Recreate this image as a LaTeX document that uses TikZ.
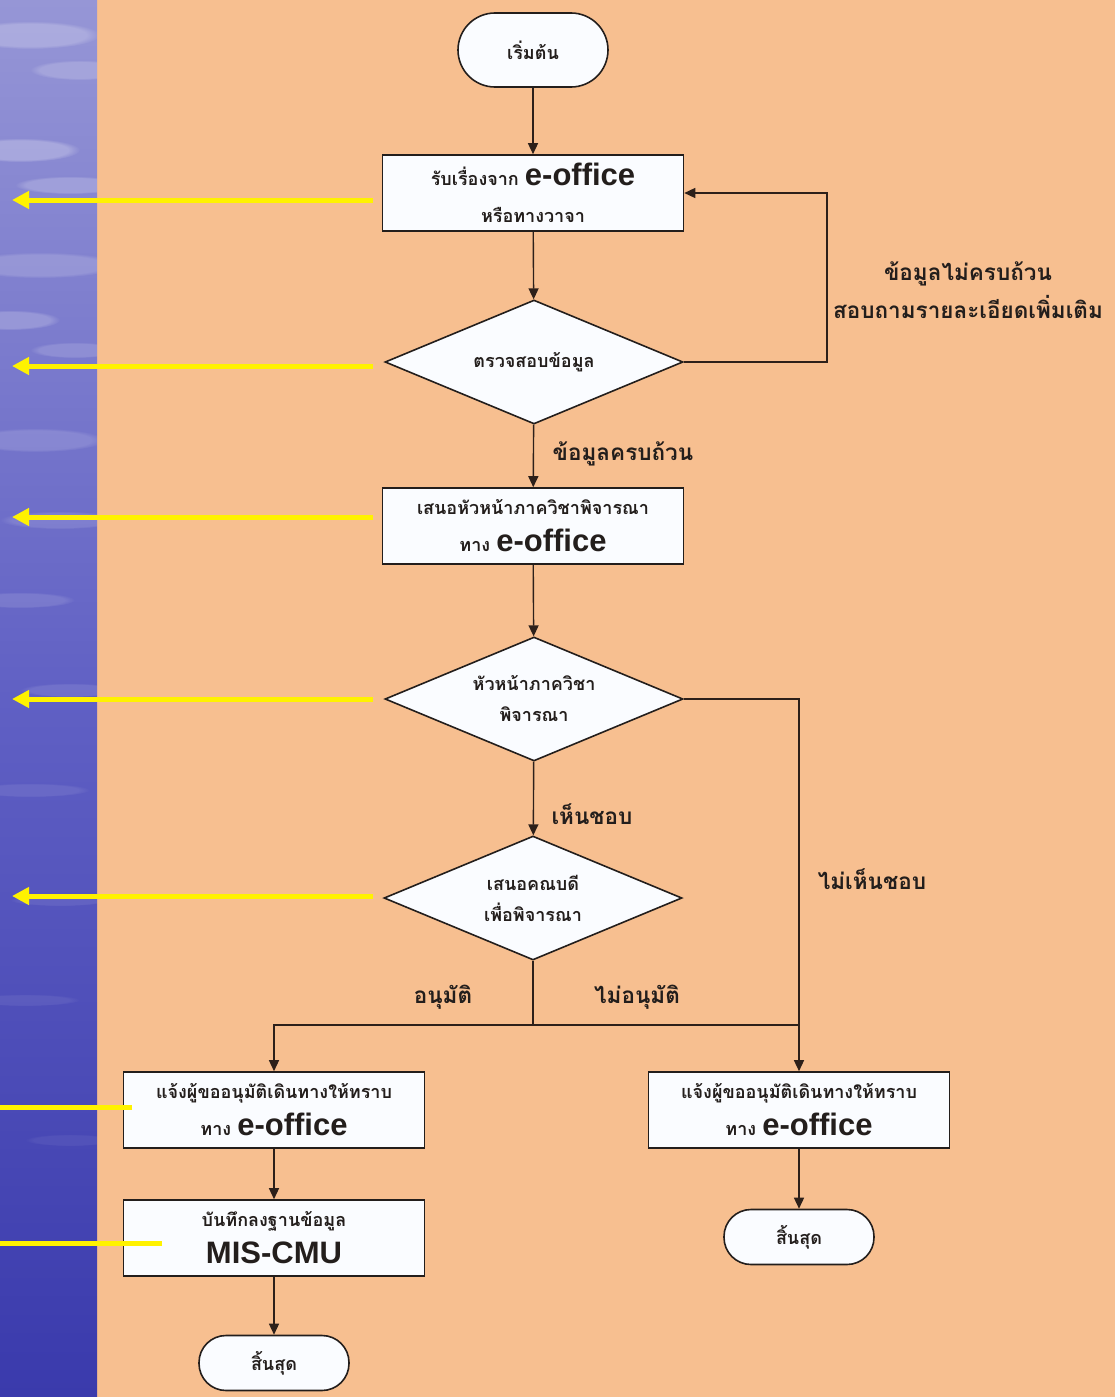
\documentclass[tikz,border=0pt]{standalone}
\usepackage{fontspec}
\setmainfont{Liberation Sans}
\newfontfamily\latin{Liberation Sans}
\newfontfamily\thai[Script=Thai]{Loma}
\usetikzlibrary{arrows.meta,shapes.geometric,fadings}

\definecolor{peach}{RGB}{247,191,144}
\definecolor{ink}{RGB}{35,30,28}
\definecolor{wire}{RGB}{45,32,26}
\definecolor{skytop}{RGB}{150,150,214}
\definecolor{skymid}{RGB}{96,96,196}
\definecolor{skybot}{RGB}{58,58,172}
\definecolor{marker}{RGB}{255,242,0}
\definecolor{boxfill}{RGB}{250,252,255}

\newcommand{\eo}{{\latin\bfseries\fontsize{31}{31}\selectfont e-office}}

\tikzset{
  procbox/.style={draw=ink, line width=1.6pt, fill=boxfill, rectangle,
    minimum width=301pt, minimum height=76pt, inner sep=0pt, align=center,
    text=ink, font=\thai\bfseries\fontsize{18}{37}\selectfont},
  decision/.style={draw=ink, line width=1.6pt, fill=boxfill, diamond, aspect=2.4,
    minimum width=298pt, minimum height=124pt, inner sep=0pt, align=center,
    text=ink, font=\thai\bfseries\fontsize{18}{31}\selectfont},
  terminal/.style={draw=ink, line width=1.6pt, fill=boxfill, rectangle,
    rounded corners=27pt, minimum width=150pt, minimum height=55pt,
    inner sep=0pt, text=ink, font=\thai\bfseries\fontsize{18}{18}\selectfont},
  flow/.style={draw=wire, line width=1.4pt},
  arr/.style={flow, -{Triangle[length=11pt,width=10pt]}},
  note/.style={text=ink, font=\thai\bfseries\fontsize{22.5}{38}\selectfont, align=center},
  pointer/.style={draw=marker, line width=5pt, -{Triangle[length=17pt,width=17pt]}},
  tick/.style={draw=marker, line width=5pt},
  cloud streak/.style={fill=white, path fading=circle with fuzzy edge 20 percent}
}

\begin{document}
\begin{tikzpicture}[x=1pt,y=-1pt]
  % page and background panels
  \useasboundingbox (0,0) rectangle (1115,1397);
  \fill[peach] (97,0) rectangle (1115,1397);
  \shade[top color=skytop, bottom color=skybot, middle color=skymid]
    (0,0) rectangle (97,1397);
  % soft, irregular cloud streaks on the blue panel
  \begin{scope}
    \clip (0,0) rectangle (97,1397);
    \foreach \xx/\yy/\rx/\ry/\op in {
        30/35/70/14/0.22, 80/70/50/10/0.18, 20/150/60/12/0.25, 70/185/55/9/0.2,
        40/265/80/13/0.16, 10/320/50/10/0.2, 75/350/45/8/0.15, 35/440/70/12/0.14,
        60/520/60/9/0.12, 20/600/55/8/0.12, 70/690/50/7/0.1, 30/790/60/7/0.09,
        60/900/50/6/0.08, 25/1000/55/6/0.07, 70/1140/45/6/0.06}
      \fill[cloud streak, opacity=\op] (\xx,\yy) ellipse (\rx pt and \ry pt);
  \end{scope}

  % flowchart nodes
  \node[terminal, rounded corners=37pt, minimum height=74pt] (start) at (533,50) {เริ่มต้น};
  \node[procbox] (recv) at (533,193) {รับเรื่องจาก \eo\\หรือทางวาจา};
  \node[decision] (check) at (534,362) {ตรวจสอบข้อมูล};
  \node[procbox] (head) at (533,526) {เสนอหัวหน้าภาควิชาพิจารณา\\ทาง \eo};
  \node[decision] (headok) at (534,699) {หัวหน้าภาควิชา\\พิจารณา};
  \node[decision] (dean) at (533,898) {เสนอคณบดี\\เพื่อพิจารณา};
  \node[procbox] (tellok) at (274,1110) {แจ้งผู้ขออนุมัติเดินทางให้ทราบ\\ทาง \eo};
  \node[procbox] (mis) at (274,1238) {บันทึกลงฐานข้อมูล\\{\latin\bfseries\fontsize{31}{31}\selectfont MIS-CMU}};
  \node[terminal] (end1) at (274,1363) {สิ้นสุด};
  \node[procbox] (tellno) at (799,1110) {แจ้งผู้ขออนุมัติเดินทางให้ทราบ\\ทาง \eo};
  \node[terminal] (end2) at (799,1237) {สิ้นสุด};

  % helper points
  \coordinate (loop) at (827,193);
  \coordinate (split) at (533,1025);

  % connectors
  \draw[arr] (start) -- (recv);
  \draw[arr] (recv) -- (check);
  \draw[arr] (check.east) -- (check.east -| loop) -- (loop) -- (recv.east);
  \draw[arr] (check) -- (head);
  \draw[arr] (head) -- (headok);
  \draw[arr] (headok) -- (dean);
  \draw[arr] (headok.east) -| (tellno.north);
  \draw[flow] (dean.south) -- (split);
  \draw[arr] (split) -| (tellok.north);
  \draw[flow] (split) -- (split -| tellno.north);
  \draw[arr] (tellok) -- (mis);
  \draw[arr] (mis) -- (end1);
  \draw[arr] (tellno) -- (end2);

  % branch labels
  \node[note] (lbl-missing) at (968,290) {ข้อมูลไม่ครบถ้วน\\สอบถามรายละเอียดเพิ่มเติม};
  \node[note] (lbl-complete) at (623,454) {ข้อมูลครบถ้วน};
  \node[note] (lbl-agree) at (592,814) {เห็นชอบ};
  \node[note] (lbl-disagree) at (872,879) {ไม่เห็นชอบ};
  \node[note] (lbl-approve) at (443,997) {อนุมัติ};
  \node[note] (lbl-reject) at (637,997) {ไม่อนุมัติ};

  % yellow pointers on the left
  \foreach \name/\yy in {p1/200,p2/366,p3/517,p4/699,p5/896}{
    \coordinate (\name-a) at (373,\yy);
    \coordinate (\name-b) at (12,\yy);
    \draw[pointer] (\name-a) -- (\name-b);
  }
  \coordinate (t1-a) at (132,1107);
  \coordinate (t1-b) at (0,1107);
  \draw[tick] (t1-a) -- (t1-b);
  \coordinate (t2-a) at (162,1243);
  \coordinate (t2-b) at (0,1243);
  \draw[tick] (t2-a) -- (t2-b);
\end{tikzpicture}
\end{document}
